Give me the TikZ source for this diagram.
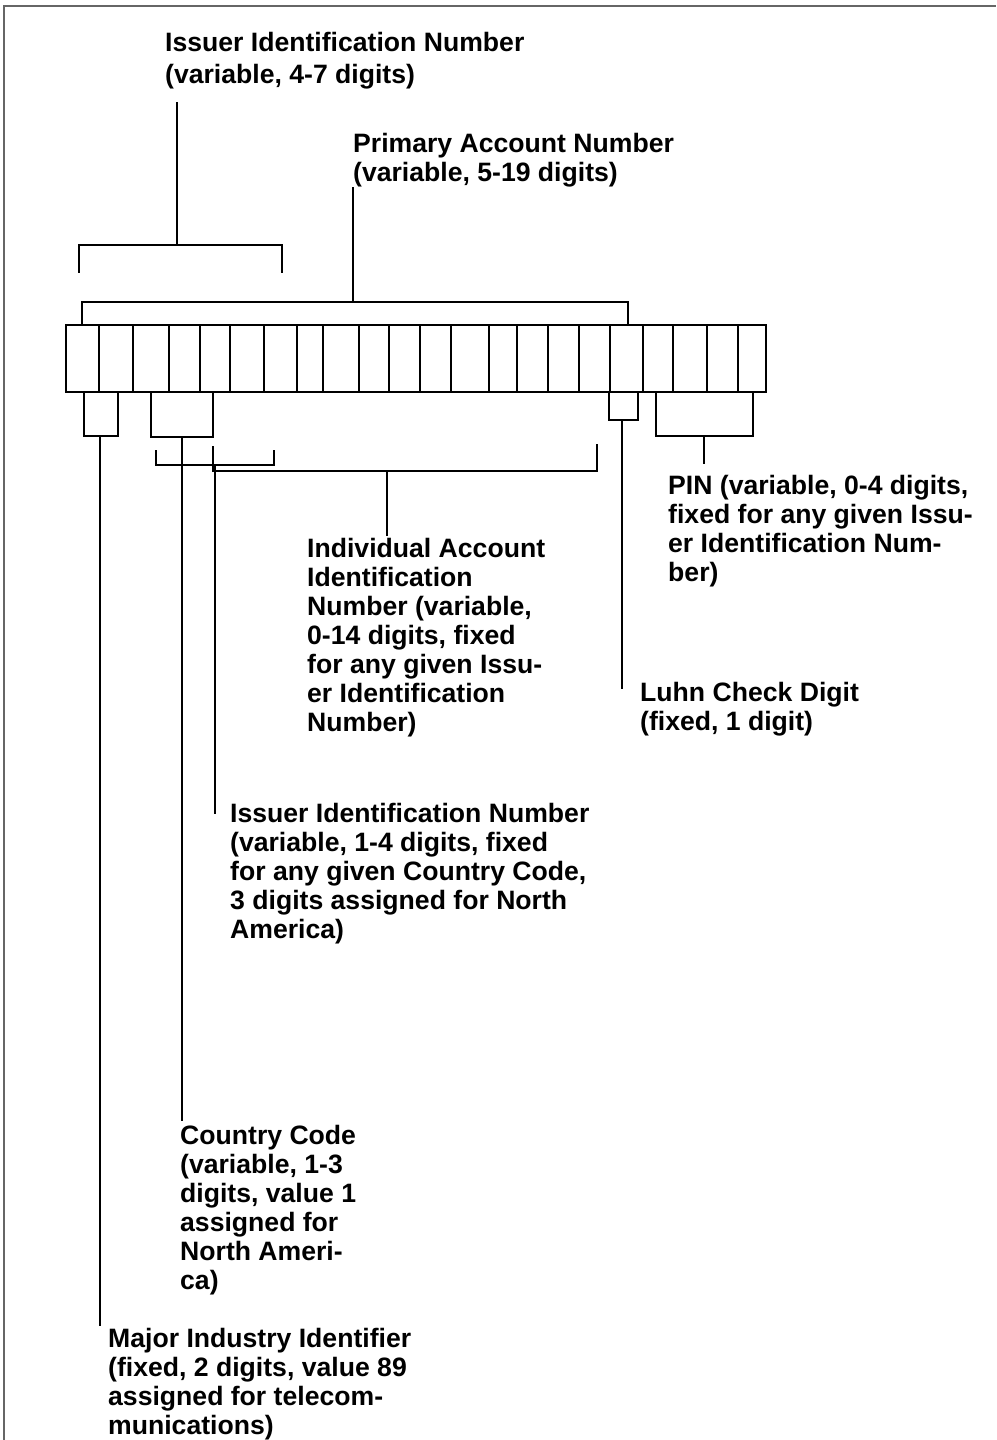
\documentclass[tikz,border=0pt]{standalone}
\usepackage{fontspec}
\setmainfont{Liberation Sans}
\usetikzlibrary{positioning}
\tikzstyle{cell}=[
	rectangle,
	draw,
	line width=1.2pt,
	minimum height=67pt,
	inner sep=0pt
]
\tikzstyle{fieldtext}=[
	anchor=north west,
	inner sep=0pt,
	align=left,
	font=\fontsize{26.6}{29}\selectfont\bfseries
]
\tikzstyle{bracket}=[
	line width=1.2pt,
	line cap=rect
]
\tikzstyle{frame}=[
	line width=1.5pt,
	draw=black!60
]

\begin{document}
\begin{tikzpicture}[x=1pt,y=-1pt]
\useasboundingbox (0,0) rectangle (996,1440);
\draw[frame] (4,1440) -- (4,6) -- (996,6);

% the digit boxes
\foreach \l/\r [count=\i] in {66/99,99/133,133/169,169/200,200/230,230/264,264/297,297/323,
	323/359,359/389,389/420,420/451,451/489,489/517,517/548,548/579,579/610,610/643,
	643/673,673/707,707/738,738/766}
	\node [cell, minimum width={(\r-\l)*1pt}] (Cell\i) at ({(\l+\r)/2},358.5) {};

% texts
\node [fieldtext] (IssuerTop) at (165,32.5) {Issuer Identification Number\\[3pt](variable, 4-7 digits)};
\node [fieldtext] (PrimaryAccount) at (353,133.5) {Primary Account Number\\(variable, 5-19 digits)};
\node [fieldtext] (PinDigits) at (668,475.5) {PIN (variable, 0-4 digits,\\fixed for any given Issu-\\er Identification Num-\\ber)};
\node [fieldtext] (IndividualAccount) at (307,538.5) {Individual Account\\Identification\\Number (variable,\\0-14 digits, fixed\\for any given Issu-\\er Identification\\Number)};
\node [fieldtext] (LuhnCheck) at (640,682.5) {Luhn Check Digit\\(fixed, 1 digit)};
\node [fieldtext] (IssuerNorth) at (230,803.5) {Issuer Identification Number\\(variable, 1-4 digits, fixed\\for any given Country Code,\\3 digits assigned for North\\America)};
\node [fieldtext] (CountryCode) at (180,1125.5) {Country Code\\(variable, 1-3\\digits, value 1\\assigned for\\North Ameri-\\ca)};
\node [fieldtext] (MajorIndustry) at (108,1328) {Major Industry Identifier\\(fixed, 2 digits, value 89\\assigned for telecom-\\munications)};

% brackets above the boxes
\coordinate (IssuerTopL) at (79,272);
\coordinate (IssuerTopR) at (282,272);
\coordinate (IssuerTopBar) at (177,245);
\draw[bracket] (IssuerTopL) |- (IssuerTopBar) -| (IssuerTopR);
\draw[bracket, shorten >=13pt] (IssuerTopBar) -- (IssuerTopBar |- IssuerTop.south);

\coordinate (PrimaryL) at (82,325);
\coordinate (PrimaryR) at (628,325);
\coordinate (PrimaryBar) at (353,302);
\draw[bracket] (PrimaryL) |- (PrimaryBar) -| (PrimaryR);
\draw[bracket] (PrimaryBar) -- (PrimaryBar |- PrimaryAccount.south);

% brackets below the boxes
\coordinate (MajorL) at (84,392);
\coordinate (MajorR) at (118,392);
\coordinate (MajorBar) at (100,436);
\draw[bracket] (MajorL) |- (MajorBar) -| (MajorR);
\draw[bracket, shorten >=3pt] (MajorBar) -- (MajorBar |- MajorIndustry.north);

\coordinate (CountryL) at (151,392);
\coordinate (CountryR) at (213,392);
\coordinate (CountryBar) at (182,437);
\draw[bracket] (CountryL) |- (CountryBar) -| (CountryR);
\draw[bracket, shorten >=5pt] (CountryBar) -- (CountryBar |- CountryCode.north);

\coordinate (IssuerL) at (156,451);
\coordinate (IssuerR) at (274,451);
\coordinate (IssuerBar) at (215,465);
\draw[bracket] (IssuerL) |- (IssuerBar) -| (IssuerR);
\draw[bracket, shorten >=-10pt] (IssuerBar) -- (IssuerBar |- IssuerNorth.north);

\coordinate (AccountL) at (213,447);
\coordinate (AccountR) at (597,445);
\coordinate (AccountBar) at (387,471);
\draw[bracket] (AccountL) |- (AccountBar) -| (AccountR);
\draw[bracket, shorten >=3pt] (AccountBar) -- (AccountBar |- IndividualAccount.north);

\coordinate (LuhnL) at (609,392);
\coordinate (LuhnR) at (638,392);
\coordinate (LuhnBar) at (622,420);
\draw[bracket] (LuhnL) |- (LuhnBar) -| (LuhnR);
\draw[bracket, shorten >=-6pt] (LuhnBar) -- (LuhnBar |- LuhnCheck.north);

\coordinate (PinL) at (656,392);
\coordinate (PinR) at (753,392);
\coordinate (PinBar) at (704,436);
\draw[bracket] (PinL) |- (PinBar) -| (PinR);
\draw[bracket, shorten >=12pt] (PinBar) -- (PinBar |- PinDigits.north);
\end{tikzpicture}
\end{document}
